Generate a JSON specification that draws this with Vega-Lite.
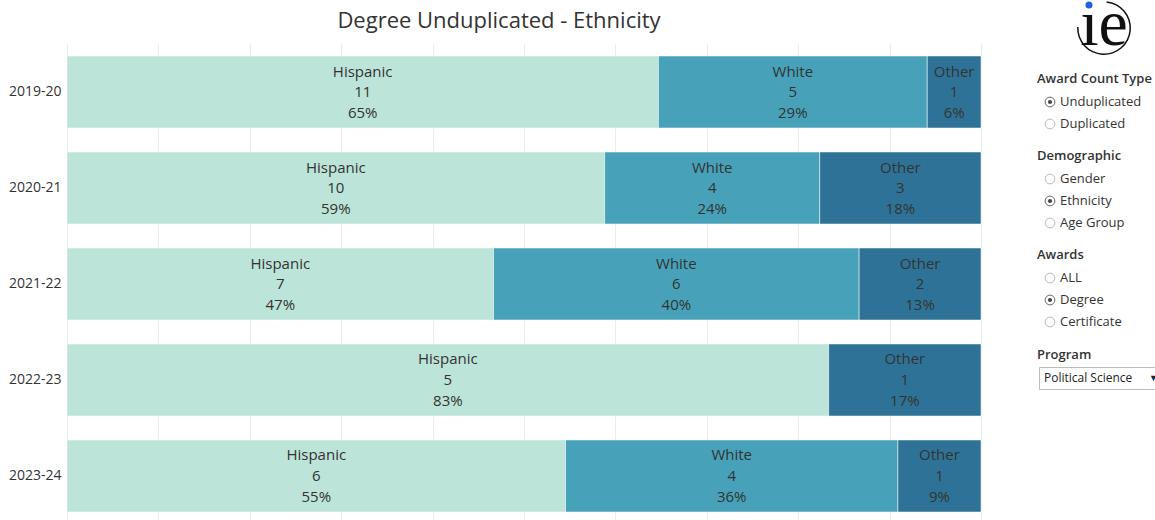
{
  "$schema": "https://vega.github.io/schema/vega-lite/v6.json",
  "padding": {"left": 5, "top": -8, "right": 0, "bottom": 0},
  "background": "white",
  "config": {"font": "Open Sans", "view": {"stroke": null}},
  "datasets": {
    "bars": [
      {"year": "2019-20", "ethnicity": "Hispanic", "count": 11, "pct": "65%"},
      {"year": "2019-20", "ethnicity": "White", "count": 5, "pct": "29%"},
      {"year": "2019-20", "ethnicity": "Other", "count": 1, "pct": "6%"},
      {"year": "2020-21", "ethnicity": "Hispanic", "count": 10, "pct": "59%"},
      {"year": "2020-21", "ethnicity": "White", "count": 4, "pct": "24%"},
      {"year": "2020-21", "ethnicity": "Other", "count": 3, "pct": "18%"},
      {"year": "2021-22", "ethnicity": "Hispanic", "count": 7, "pct": "47%"},
      {"year": "2021-22", "ethnicity": "White", "count": 6, "pct": "40%"},
      {"year": "2021-22", "ethnicity": "Other", "count": 2, "pct": "13%"},
      {"year": "2022-23", "ethnicity": "Hispanic", "count": 5, "pct": "83%"},
      {"year": "2022-23", "ethnicity": "Other", "count": 1, "pct": "17%"},
      {"year": "2023-24", "ethnicity": "Hispanic", "count": 6, "pct": "55%"},
      {"year": "2023-24", "ethnicity": "White", "count": 4, "pct": "36%"},
      {"year": "2023-24", "ethnicity": "Other", "count": 1, "pct": "9%"}
    ],
    "g1": [{"label": "Unduplicated", "sel": true}, {"label": "Duplicated", "sel": false}],
    "g2": [{"label": "Gender", "sel": false}, {"label": "Ethnicity", "sel": true}, {"label": "Age Group", "sel": false}],
    "g3": [{"label": "ALL", "sel": false}, {"label": "Degree", "sel": true}, {"label": "Certificate", "sel": false}],
    "g4": [{"label": "Political Science"}]
  },
  "spacing": 54,
  "hconcat": [
    {
      "width": 914,
      "height": 476,
      "title": {"text": "Degree Unduplicated - Ethnicity", "fontSize": 22, "fontWeight": "normal", "color": "#333", "dx": -25, "offset": 11, "anchor": "middle"},
      "data": {"name": "bars"},
      "transform": [
        {"calculate": "indexof(['Hispanic','White','Other'], datum.ethnicity)", "as": "ord"},
        {"stack": "count", "groupby": ["year"], "sort": [{"field": "ord", "order": "ascending"}], "offset": "normalize", "as": ["s0", "s1"]},
        {"calculate": "(datum.s0 + datum.s1) / 2", "as": "mid"}
      ],
      "encoding": {
        "y": {
          "field": "year", "type": "nominal", "sort": null,
          "scale": {"paddingInner": 0.25, "paddingOuter": 0.1042, "align": 0.6},
          "axis": {"title": null, "ticks": false, "domain": false, "labelFontSize": 14, "labelColor": "#333", "labelPadding": 6, "minExtent": 62, "maxExtent": 62}
        }
      },
      "layer": [
        {
          "mark": {"type": "bar", "stroke": "white", "strokeWidth": 0.5},
          "encoding": {
            "x": {"field": "s0", "type": "quantitative", "scale": {"domain": [0, 1]},
              "axis": {"title": null, "labels": false, "ticks": false, "domain": false, "grid": true, "gridColor": "#ebebeb", "values": [0, 0.1, 0.2, 0.3, 0.4, 0.5, 0.6, 0.7, 0.8, 0.9, 1], "minExtent": 0, "maxExtent": 0}},
            "x2": {"field": "s1"},
            "color": {"field": "ethnicity", "type": "nominal", "scale": {"domain": ["Hispanic", "White", "Other"], "range": ["#bce4d8", "#47a2b9", "#2e7397"]}, "legend": null}
          }
        },
        {
          "mark": {"type": "text", "dy": -20.5, "fontSize": 15, "color": "#333", "baseline": "middle"},
          "encoding": {"x": {"field": "mid", "type": "quantitative"}, "text": {"field": "ethnicity"}}
        },
        {
          "mark": {"type": "text", "dy": 0, "fontSize": 15, "color": "#333", "baseline": "middle"},
          "encoding": {"x": {"field": "mid", "type": "quantitative"}, "text": {"field": "count"}}
        },
        {
          "mark": {"type": "text", "dy": 21, "fontSize": 15, "color": "#333", "baseline": "middle"},
          "encoding": {"x": {"field": "mid", "type": "quantitative"}, "text": {"field": "pct"}}
        }
      ]
    },
    {
      "spacing": 15,
      "vconcat": [
        {
          "width": 120,
          "height": 11,
          "data": {"values": [{"k": 1}]},
          "layer": [
            {"mark": {"type": "arc", "radius": 27, "radius2": 25.5, "theta": 0.1, "theta2": 4.75, "color": "#111", "xOffset": 5, "yOffset": -21.5}, "encoding": {}},
            {"mark": {"type": "text", "text": "ıe", "font": "Liberation Serif", "fontSize": 66, "color": "#111", "baseline": "alphabetic", "align": "center", "xOffset": 5, "yOffset": -4.5}, "encoding": {}},
            {"mark": {"type": "point", "filled": true, "color": "#1f5fe0", "size": 50, "opacity": 1, "xOffset": -10, "yOffset": -44.5}, "encoding": {}}
          ]
        },
        {
          "width": 120,
          "height": 44,
          "title": {"text": "Award Count Type", "anchor": "start", "fontSize": 13, "fontWeight": 600, "color": "#333", "offset": 5, "dx": -2},
          "data": {"name": "g1"},
          "encoding": {"y": {"field": "label", "type": "nominal", "sort": null, "axis": null, "scale": {"padding": 0.5}}},
          "layer": [
            {"mark": {"type": "point", "shape": "circle", "filled": false, "size": 95, "strokeWidth": 1, "xOffset": 11, "opacity": 1},
             "encoding": {"x": {"datum": 0, "type": "quantitative", "scale": {"domain": [0, 1]}, "axis": null},
               "stroke": {"condition": {"test": "datum.sel", "value": "#666"}, "value": "#bbb"}}},
            {"transform": [{"filter": "datum.sel"}], "mark": {"type": "point", "shape": "circle", "filled": true, "size": 18, "color": "#444", "xOffset": 11, "opacity": 1},
             "encoding": {"x": {"datum": 0, "type": "quantitative"}}},
            {"mark": {"type": "text", "align": "left", "baseline": "middle", "dx": 21, "fontSize": 13, "color": "#333"},
             "encoding": {"x": {"datum": 0, "type": "quantitative"}, "text": {"field": "label"}}}
          ]
        },
        {
          "width": 120,
          "height": 66,
          "title": {"text": "Demographic", "anchor": "start", "fontSize": 13, "fontWeight": 600, "color": "#333", "offset": 5, "dx": -2},
          "data": {"name": "g2"},
          "encoding": {"y": {"field": "label", "type": "nominal", "sort": null, "axis": null, "scale": {"padding": 0.5}}},
          "layer": [
            {"mark": {"type": "point", "shape": "circle", "filled": false, "size": 95, "strokeWidth": 1, "xOffset": 11, "opacity": 1},
             "encoding": {"x": {"datum": 0, "type": "quantitative", "scale": {"domain": [0, 1]}, "axis": null},
               "stroke": {"condition": {"test": "datum.sel", "value": "#666"}, "value": "#bbb"}}},
            {"transform": [{"filter": "datum.sel"}], "mark": {"type": "point", "shape": "circle", "filled": true, "size": 18, "color": "#444", "xOffset": 11, "opacity": 1},
             "encoding": {"x": {"datum": 0, "type": "quantitative"}}},
            {"mark": {"type": "text", "align": "left", "baseline": "middle", "dx": 21, "fontSize": 13, "color": "#333"},
             "encoding": {"x": {"datum": 0, "type": "quantitative"}, "text": {"field": "label"}}}
          ]
        },
        {
          "width": 120,
          "height": 66,
          "title": {"text": "Awards", "anchor": "start", "fontSize": 13, "fontWeight": 600, "color": "#333", "offset": 5, "dx": -2},
          "data": {"name": "g3"},
          "encoding": {"y": {"field": "label", "type": "nominal", "sort": null, "axis": null, "scale": {"padding": 0.5}}},
          "layer": [
            {"mark": {"type": "point", "shape": "circle", "filled": false, "size": 95, "strokeWidth": 1, "xOffset": 11, "opacity": 1},
             "encoding": {"x": {"datum": 0, "type": "quantitative", "scale": {"domain": [0, 1]}, "axis": null},
               "stroke": {"condition": {"test": "datum.sel", "value": "#666"}, "value": "#bbb"}}},
            {"transform": [{"filter": "datum.sel"}], "mark": {"type": "point", "shape": "circle", "filled": true, "size": 18, "color": "#444", "xOffset": 11, "opacity": 1},
             "encoding": {"x": {"datum": 0, "type": "quantitative"}}},
            {"mark": {"type": "text", "align": "left", "baseline": "middle", "dx": 21, "fontSize": 13, "color": "#333"},
             "encoding": {"x": {"datum": 0, "type": "quantitative"}, "text": {"field": "label"}}}
          ]
        },
        {
          "width": 122,
          "height": 22,
          "title": {"text": "Program", "anchor": "start", "fontSize": 13, "fontWeight": 600, "color": "#333", "offset": 5, "dx": -2},
          "view": {"stroke": "#bbb", "fill": "white"},
          "data": {"name": "g4"},
          "layer": [
            {"mark": {"type": "text", "align": "left", "baseline": "middle", "dx": 5, "fontSize": 12, "color": "#222"},
             "encoding": {"x": {"datum": 0, "type": "quantitative", "scale": {"domain": [0, 1]}, "axis": null}, "text": {"field": "label"}}},
            {"mark": {"type": "text", "align": "right", "baseline": "middle", "dx": -3, "fontSize": 9, "color": "#222", "text": "▼"},
             "encoding": {"x": {"datum": 1, "type": "quantitative"}}}
          ]
        }
      ]
    }
  ]
}
